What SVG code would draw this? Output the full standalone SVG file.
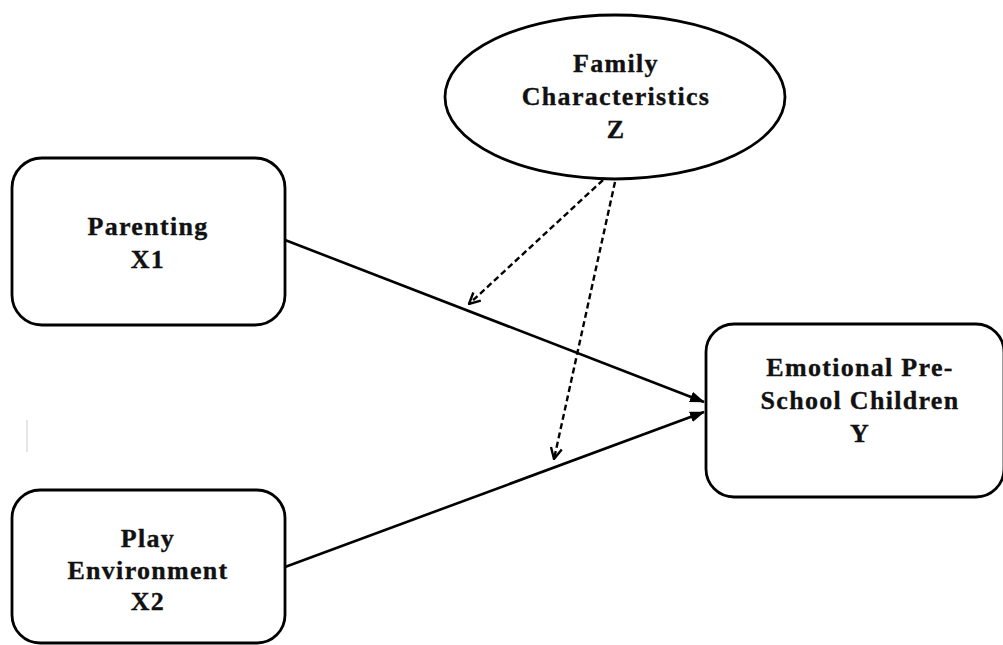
<svg xmlns="http://www.w3.org/2000/svg" width="1003" height="645" viewBox="0 0 1003 645">
  <style>
    .box { fill: #ffffff; stroke: #000000; stroke-width: 2.8; }
    .lbl { font-family: "Liberation Serif", "Times New Roman", serif; font-weight: bold; font-size: 26px; letter-spacing: 1.3px; fill: #111111; stroke: #111111; stroke-width: 0.35; text-anchor: middle; }
    .solid { stroke: #000000; stroke-width: 2.6; fill: none; }
    .dash { stroke: #000000; stroke-width: 2.4; fill: none; stroke-dasharray: 6 3.5; }
  </style>
  <defs>
    <marker id="headFilled" viewBox="0 0 15 11" refX="14" refY="5.5" markerWidth="15" markerHeight="11" markerUnits="userSpaceOnUse" orient="auto">
      <path d="M0,0 L15,5.5 L0,11 Z" fill="#000000"/>
    </marker>
    <marker id="headOpen" viewBox="0 0 13 13" refX="12" refY="6.5" markerWidth="13" markerHeight="13" markerUnits="userSpaceOnUse" orient="auto">
      <path d="M1,1 L12,6.5 L1,12" fill="none" stroke="#000000" stroke-width="2.4"/>
    </marker>
  </defs>

  <rect width="1003" height="645" fill="#ffffff"/>

  <!-- stray mark at left margin -->
  <line x1="27" y1="420" x2="27" y2="452" stroke="#cccccc" stroke-width="1"/>

  <!-- connectors -->
  <g id="connectors">
    <line class="solid" x1="285" y1="240" x2="704" y2="402" marker-end="url(#headFilled)"/>
    <line class="solid" x1="285" y1="567" x2="704" y2="412" marker-end="url(#headFilled)"/>
    <line class="dash" x1="603" y1="180" x2="469" y2="304" marker-end="url(#headOpen)"/>
    <line class="dash" x1="615" y1="182" x2="554" y2="459" marker-end="url(#headOpen)"/>
  </g>

  <!-- moderator -->
  <g id="node-family">
    <ellipse class="box" cx="615" cy="97" rx="170" ry="82"/>
    <text class="lbl" x="616" y="72">Family</text>
    <text class="lbl" x="616" y="105">Characteristics</text>
    <text class="lbl" x="616" y="138">Z</text>
  </g>

  <g id="node-parenting">
    <rect class="box" x="12" y="158" width="273" height="167" rx="30" ry="30"/>
    <text class="lbl" x="148" y="235">Parenting</text>
    <text class="lbl" x="148" y="268">X1</text>
  </g>

  <g id="node-play">
    <rect class="box" x="12" y="490" width="273" height="153" rx="28" ry="28"/>
    <text class="lbl" x="148" y="547">Play</text>
    <text class="lbl" x="148" y="579">Environment</text>
    <text class="lbl" x="148" y="610">X2</text>
  </g>

  <g id="node-emotional">
    <rect class="box" x="706" y="324" width="298" height="173" rx="28" ry="28"/>
    <text class="lbl" x="860" y="376">Emotional Pre-</text>
    <text class="lbl" x="860" y="409">School Children</text>
    <text class="lbl" x="860" y="442">Y</text>
  </g>
</svg>
